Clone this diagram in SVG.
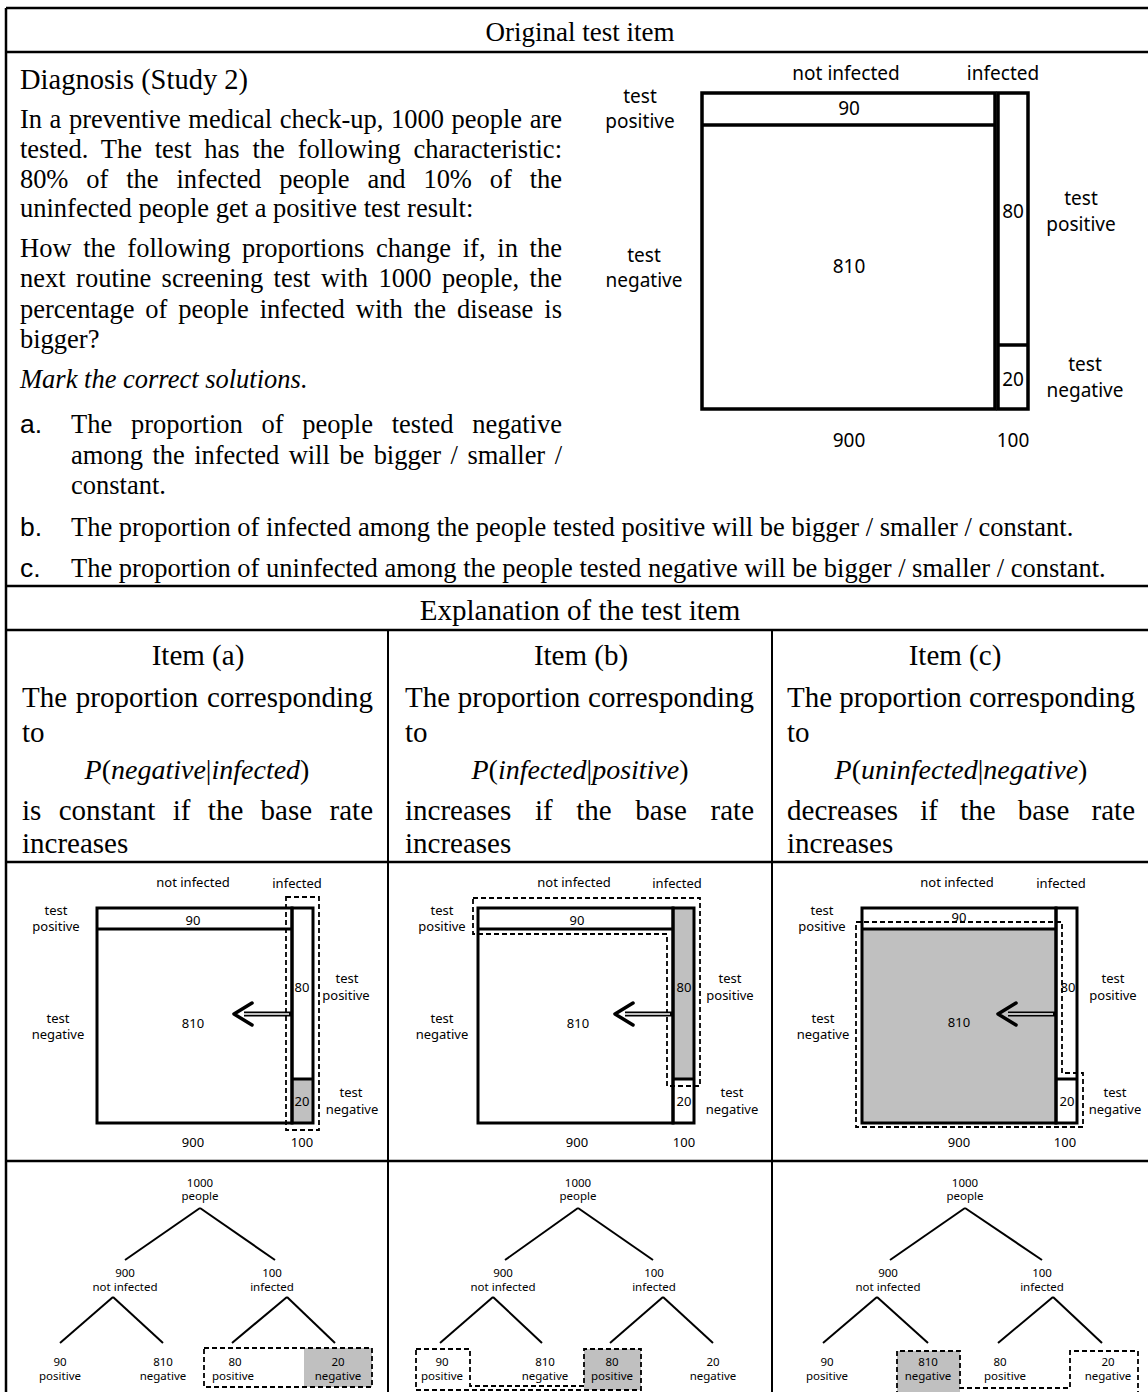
<svg xmlns="http://www.w3.org/2000/svg" width="1148" height="1392" viewBox="0 0 1148 1392">
<style>
.sr{font-family:"Liberation Serif","Times New Roman",serif;fill:#000}
.ss{font-family:"Liberation Sans",Arial,sans-serif;fill:#000}
.sn{font-family:"Noto Sans","Open Sans",sans-serif;fill:#000;text-anchor:middle}
.body{font-size:26.5px}
.ex{font-size:29px}
.m1{font-size:19px}
.m2{font-size:13px}
.tr{font-size:11.5px}
.mid{text-anchor:middle}
.grid{stroke:#000;stroke-width:2.5;fill:none}
.vgrid{stroke:#000;stroke-width:2;fill:none}
.box{stroke:#000;stroke-width:3;fill:none}
.box1{stroke:#000;stroke-width:3.5;fill:none}
.dash{stroke:#000;stroke-width:1.8;fill:none;stroke-dasharray:5 3}
.gray{fill:#c0c0c0}
.edge{stroke:#000;stroke-width:2;fill:none}
</style>
<rect x="0" y="0" width="1148" height="1392" fill="#fff"/>

<g id="table-grid">
<line class="grid" x1="6" y1="8" x2="1148" y2="8"/>
<line class="grid" x1="6" y1="8" x2="6" y2="1392"/>
<line class="grid" x1="6" y1="52" x2="1148" y2="52"/>
<line class="grid" x1="6" y1="586" x2="1148" y2="586"/>
<line class="grid" x1="6" y1="630" x2="1148" y2="630"/>
<line class="grid" x1="6" y1="862" x2="1148" y2="862"/>
<line class="grid" x1="6" y1="1161" x2="1148" y2="1161"/>
<line class="vgrid" x1="388" y1="630" x2="388" y2="1392"/>
<line class="vgrid" x1="772" y1="630" x2="772" y2="1392"/>
</g>

<g id="original-item-text">
<text class="sr mid" x="580" y="41" font-size="27">Original test item</text>
<text class="sr" x="20" y="89" font-size="28.5">Diagnosis (Study 2)</text>
<text class="sr body" x="20" y="128" word-spacing="0.9" textLength="542" lengthAdjust="spacing">In a preventive medical check-up, 1000 people are</text>
<text class="sr body" x="20" y="158" word-spacing="6.2" textLength="542" lengthAdjust="spacing">tested. The test has the following characteristic:</text>
<text class="sr body" x="20" y="188" word-spacing="11.4" textLength="542" lengthAdjust="spacing">80% of the infected people and 10% of the</text>
<text class="sr body" x="20" y="217">uninfected people get a positive test result:</text>
<text class="sr body" x="20" y="257" word-spacing="5.1" textLength="542" lengthAdjust="spacing">How the following proportions change if, in the</text>
<text class="sr body" x="20" y="287" word-spacing="3.8" textLength="542" lengthAdjust="spacing">next routine screening test with 1000 people, the</text>
<text class="sr body" x="20" y="318" word-spacing="4.4" textLength="542" lengthAdjust="spacing">percentage of people infected with the disease is</text>
<text class="sr body" x="20" y="348">bigger?</text>
<text class="sr body" x="20" y="388" font-style="italic">Mark the correct solutions.</text>
<text class="ss body" x="20" y="433">a.</text>
<text class="sr body" x="71" y="433" word-spacing="12.1" textLength="491" lengthAdjust="spacing">The proportion of people tested negative</text>
<text class="sr body" x="71" y="464" word-spacing="2.9" textLength="491" lengthAdjust="spacing">among the infected will be bigger / smaller /</text>
<text class="sr body" x="71" y="494">constant.</text>
<text class="ss body" x="20" y="536">b.</text>
<text class="sr body" x="71" y="536">The proportion of infected among the people tested positive will be bigger / smaller / constant.</text>
<text class="ss body" x="20" y="577">c.</text>
<text class="sr body" x="71" y="577">The proportion of uninfected among the people tested negative will be bigger / smaller / constant.</text>
</g>

<g id="original-mosaic">
<rect class="box1" x="702" y="93" width="293" height="316"/>
<line class="box1" x1="702" y1="125" x2="995" y2="125"/>
<rect class="box1" x="998" y="93" width="30" height="316"/>
<line class="box1" x1="998" y1="345" x2="1028" y2="345"/>
<text class="sn m1" x="846" y="80">not infected</text>
<text class="sn m1" x="1003" y="80">infected</text>
<text class="sn m1" x="640" y="103">test</text>
<text class="sn m1" x="640" y="128">positive</text>
<text class="sn m1" x="644" y="262">test</text>
<text class="sn m1" x="644" y="287">negative</text>
<text class="sn m1" x="1081" y="205">test</text>
<text class="sn m1" x="1081" y="231">positive</text>
<text class="sn m1" x="1085" y="371">test</text>
<text class="sn m1" x="1085" y="397">negative</text>
<text class="sn m1" x="849" y="115">90</text>
<text class="sn m1" x="1013" y="218">80</text>
<text class="sn m1" x="849" y="273">810</text>
<text class="sn m1" x="1013" y="386">20</text>
<text class="sn m1" x="849" y="447">900</text>
<text class="sn m1" x="1013" y="447">100</text>
</g>

<g id="explanation-header">
<text class="sr ex mid" x="580" y="620">Explanation of the test item</text>
</g>

<g id="item-a-text">
<text class="sr ex mid" x="198" y="665">Item (a)</text>
<text class="sr ex" x="22" y="707" word-spacing="1.5" textLength="351" lengthAdjust="spacing">The proportion corresponding</text>
<text class="sr ex" x="22" y="742">to</text>
<text class="sr mid" x="197" y="779" font-size="28"><tspan font-style="italic">P</tspan>(<tspan font-style="italic">negative</tspan>|<tspan font-style="italic">infected</tspan>)</text>
<text class="sr ex" x="22" y="820" word-spacing="10.1" textLength="351" lengthAdjust="spacing">is constant if the base rate</text>
<text class="sr ex" x="22" y="853">increases</text>
</g>
<g id="item-b-text">
<text class="sr ex mid" x="581" y="665">Item (b)</text>
<text class="sr ex" x="405" y="707" word-spacing="0.5" textLength="349" lengthAdjust="spacing">The proportion corresponding</text>
<text class="sr ex" x="405" y="742">to</text>
<text class="sr mid" x="580" y="779" font-size="28"><tspan font-style="italic">P</tspan>(<tspan font-style="italic">infected</tspan>|<tspan font-style="italic">positive</tspan>)</text>
<text class="sr ex" x="405" y="820" word-spacing="16.4" textLength="349" lengthAdjust="spacing">increases if the base rate</text>
<text class="sr ex" x="405" y="853">increases</text>
</g>
<g id="item-c-text">
<text class="sr ex mid" x="955" y="665">Item (c)</text>
<text class="sr ex" x="787" y="707" textLength="348" lengthAdjust="spacing">The proportion corresponding</text>
<text class="sr ex" x="787" y="742">to</text>
<text class="sr mid" x="961" y="779" font-size="28"><tspan font-style="italic">P</tspan>(<tspan font-style="italic">uninfected</tspan>|<tspan font-style="italic">negative</tspan>)</text>
<text class="sr ex" x="787" y="820" word-spacing="14.9" textLength="348" lengthAdjust="spacing">decreases if the base rate</text>
<text class="sr ex" x="787" y="853">increases</text>
</g>

<g id="mosaic-a">
<rect class="gray" x="292" y="1079" width="21" height="44"/>
<rect class="box" x="97" y="908" width="195" height="215"/>
<line class="box" x1="97" y1="929" x2="292" y2="929"/>
<rect class="box" x="292" y="908" width="21" height="215"/>
<line class="box" x1="292" y1="1079" x2="313" y2="1079"/>
<rect class="dash" x="286" y="897" width="33" height="233"/>
<line x1="291" y1="1014" x2="244" y2="1014" stroke="#000" stroke-width="5"/>
<line x1="289" y1="1014" x2="244" y2="1014" stroke="#fff" stroke-width="1.6"/>
<polyline points="252,1003 234,1014 252,1025" fill="none" stroke="#000" stroke-width="3.5" stroke-linecap="round" stroke-linejoin="round"/>
<text class="sn m2" x="193" y="887">not infected</text>
<text class="sn m2" x="297" y="888">infected</text>
<text class="sn m2" x="56" y="915">test</text>
<text class="sn m2" x="56" y="931">positive</text>
<text class="sn m2" x="58" y="1023">test</text>
<text class="sn m2" x="58" y="1039">negative</text>
<text class="sn m2" x="347" y="983">test</text>
<text class="sn m2" x="346" y="1000">positive</text>
<text class="sn m2" x="351" y="1097">test</text>
<text class="sn m2" x="352" y="1114">negative</text>
<text class="sn m2" x="193" y="925">90</text>
<text class="sn m2" x="302" y="992">80</text>
<text class="sn m2" x="193" y="1028">810</text>
<text class="sn m2" x="302" y="1106">20</text>
<text class="sn m2" x="193" y="1147">900</text>
<text class="sn m2" x="302" y="1147">100</text>
</g>

<g id="mosaic-b">
<rect class="gray" x="673" y="908" width="21" height="171"/>
<rect class="box" x="478" y="908" width="195" height="215"/>
<line class="box" x1="478" y1="929" x2="673" y2="929"/>
<rect class="box" x="673" y="908" width="21" height="215"/>
<line class="box" x1="673" y1="1079" x2="694" y2="1079"/>
<path class="dash" d="M473,898 H700 V1086 H667 V934 H473 Z"/>
<line x1="672" y1="1014" x2="625" y2="1014" stroke="#000" stroke-width="5"/>
<line x1="670" y1="1014" x2="625" y2="1014" stroke="#fff" stroke-width="1.6"/>
<polyline points="633,1003 615,1014 633,1025" fill="none" stroke="#000" stroke-width="3.5" stroke-linecap="round" stroke-linejoin="round"/>
<text class="sn m2" x="574" y="887">not infected</text>
<text class="sn m2" x="677" y="888">infected</text>
<text class="sn m2" x="442" y="915">test</text>
<text class="sn m2" x="442" y="931">positive</text>
<text class="sn m2" x="442" y="1023">test</text>
<text class="sn m2" x="442" y="1039">negative</text>
<text class="sn m2" x="730" y="983">test</text>
<text class="sn m2" x="730" y="1000">positive</text>
<text class="sn m2" x="732" y="1097">test</text>
<text class="sn m2" x="732" y="1114">negative</text>
<text class="sn m2" x="577" y="925">90</text>
<text class="sn m2" x="684" y="992">80</text>
<text class="sn m2" x="578" y="1028">810</text>
<text class="sn m2" x="684" y="1106">20</text>
<text class="sn m2" x="577" y="1147">900</text>
<text class="sn m2" x="684" y="1147">100</text>
</g>

<g id="mosaic-c">
<rect class="gray" x="862" y="929" width="194" height="194"/>
<rect class="box" x="862" y="908" width="194" height="215"/>
<line class="box" x1="862" y1="929" x2="1056" y2="929"/>
<rect class="box" x="1056" y="908" width="21" height="215"/>
<line class="box" x1="1056" y1="1079" x2="1077" y2="1079"/>
<text class="sn m2" x="959" y="922">90</text>
<text class="sn m2" x="1068" y="992">80</text>
<path class="dash" d="M856,922 H1062 V1073 H1083 V1127 H856 Z"/>
<line x1="1055" y1="1014" x2="1008" y2="1014" stroke="#000" stroke-width="5"/>
<line x1="1053" y1="1014" x2="1008" y2="1014" stroke="#fff" stroke-width="1.6"/>
<polyline points="1016,1003 998,1014 1016,1025" fill="none" stroke="#000" stroke-width="3.5" stroke-linecap="round" stroke-linejoin="round"/>
<text class="sn m2" x="957" y="887">not infected</text>
<text class="sn m2" x="1061" y="888">infected</text>
<text class="sn m2" x="822" y="915">test</text>
<text class="sn m2" x="822" y="931">positive</text>
<text class="sn m2" x="823" y="1023">test</text>
<text class="sn m2" x="823" y="1039">negative</text>
<text class="sn m2" x="1113" y="983">test</text>
<text class="sn m2" x="1113" y="1000">positive</text>
<text class="sn m2" x="1115" y="1097">test</text>
<text class="sn m2" x="1115" y="1114">negative</text>
<text class="sn m2" x="959" y="1027">810</text>
<text class="sn m2" x="1067" y="1106">20</text>
<text class="sn m2" x="959" y="1147">900</text>
<text class="sn m2" x="1065" y="1147">100</text>
</g>

<g id="tree-a">
<rect class="gray" x="304" y="1348" width="68" height="39"/>
<rect class="dash" x="204" y="1348" width="168" height="39"/>
<g id="tree-a-edges">
<line class="edge" x1="200" y1="1208" x2="125" y2="1260"/>
<line class="edge" x1="200" y1="1208" x2="275" y2="1260"/>
<line class="edge" x1="113" y1="1297" x2="60" y2="1343"/>
<line class="edge" x1="113" y1="1297" x2="163" y2="1343"/>
<line class="edge" x1="287" y1="1297" x2="232" y2="1343"/>
<line class="edge" x1="287" y1="1297" x2="335" y2="1343"/>
</g>
<text class="sn tr" x="200" y="1187">1000</text>
<text class="sn tr" x="200" y="1200">people</text>
<text class="sn tr" x="125" y="1277">900</text>
<text class="sn tr" x="125" y="1291">not infected</text>
<text class="sn tr" x="272" y="1277">100</text>
<text class="sn tr" x="272" y="1291">infected</text>
<text class="sn tr" x="60" y="1366">90</text>
<text class="sn tr" x="60" y="1380">positive</text>
<text class="sn tr" x="163" y="1366">810</text>
<text class="sn tr" x="163" y="1380">negative</text>
<text class="sn tr" x="235" y="1366">80</text>
<text class="sn tr" x="233" y="1380">positive</text>
<text class="sn tr" x="338" y="1366">20</text>
<text class="sn tr" x="338" y="1380">negative</text>
</g>

<g id="tree-b">
<rect class="gray" x="584" y="1349" width="57" height="41"/>
<path class="dash" d="M416,1349 H470 V1386 H584 V1349 H641 V1390 H416 Z"/>
<g id="tree-b-edges">
<line class="edge" x1="578" y1="1208" x2="505" y2="1260"/>
<line class="edge" x1="578" y1="1208" x2="653" y2="1260"/>
<line class="edge" x1="493" y1="1297" x2="440" y2="1343"/>
<line class="edge" x1="493" y1="1297" x2="542" y2="1343"/>
<line class="edge" x1="663" y1="1297" x2="610" y2="1343"/>
<line class="edge" x1="663" y1="1297" x2="713" y2="1343"/>
</g>
<text class="sn tr" x="578" y="1187">1000</text>
<text class="sn tr" x="578" y="1200">people</text>
<text class="sn tr" x="503" y="1277">900</text>
<text class="sn tr" x="503" y="1291">not infected</text>
<text class="sn tr" x="654" y="1277">100</text>
<text class="sn tr" x="654" y="1291">infected</text>
<text class="sn tr" x="442" y="1366">90</text>
<text class="sn tr" x="442" y="1380">positive</text>
<text class="sn tr" x="545" y="1366">810</text>
<text class="sn tr" x="545" y="1380">negative</text>
<text class="sn tr" x="612" y="1366">80</text>
<text class="sn tr" x="612" y="1380">positive</text>
<text class="sn tr" x="713" y="1366">20</text>
<text class="sn tr" x="713" y="1380">negative</text>
</g>

<g id="tree-c">
<rect class="gray" x="897" y="1351" width="63" height="45"/>
<path class="dash" d="M897,1396 V1351 H960 V1388 H1070 V1351 H1138 V1396"/>
<g id="tree-c-edges">
<line class="edge" x1="965" y1="1208" x2="890" y2="1260"/>
<line class="edge" x1="965" y1="1208" x2="1042" y2="1260"/>
<line class="edge" x1="877" y1="1297" x2="823" y2="1343"/>
<line class="edge" x1="877" y1="1297" x2="928" y2="1343"/>
<line class="edge" x1="1053" y1="1297" x2="998" y2="1343"/>
<line class="edge" x1="1053" y1="1297" x2="1102" y2="1343"/>
</g>
<text class="sn tr" x="965" y="1187">1000</text>
<text class="sn tr" x="965" y="1200">people</text>
<text class="sn tr" x="888" y="1277">900</text>
<text class="sn tr" x="888" y="1291">not infected</text>
<text class="sn tr" x="1042" y="1277">100</text>
<text class="sn tr" x="1042" y="1291">infected</text>
<text class="sn tr" x="827" y="1366">90</text>
<text class="sn tr" x="827" y="1380">positive</text>
<text class="sn tr" x="928" y="1366">810</text>
<text class="sn tr" x="928" y="1380">negative</text>
<text class="sn tr" x="1000" y="1366">80</text>
<text class="sn tr" x="1005" y="1380">positive</text>
<text class="sn tr" x="1108" y="1366">20</text>
<text class="sn tr" x="1108" y="1380">negative</text>
</g>
</svg>
